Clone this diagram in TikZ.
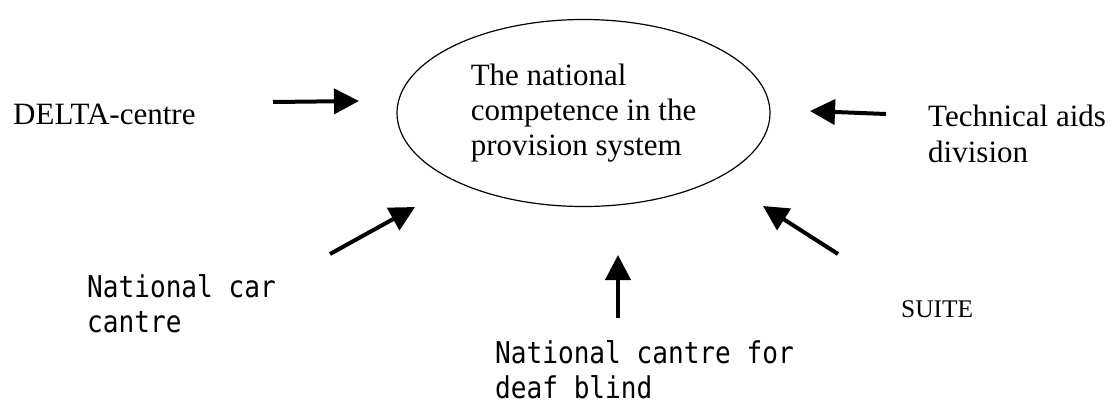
\documentclass[tikz,border=0pt]{standalone}
\usepackage{fontspec}
\setmainfont{Liberation Serif}
\newfontfamily\gothicfont[FakeStretch=0.87]{DejaVu Sans Mono}
\usetikzlibrary{shapes.geometric,arrows.meta}
\begin{document}
\begin{tikzpicture}
[x=1pt,y=-1pt,
  ellipsedecorate/.style={shape=ellipse,draw,line width=1.2pt,
    minimum width=373pt,minimum height=187pt,inner sep=0pt,
    align=left,font=\fontsize{31}{35}\selectfont},%
  serifdecorate/.style={inner sep=0pt,anchor=base west,align=left,
    font=\fontsize{31}{36}\selectfont},%
  gothicdecorate/.style={inner sep=0pt,anchor=base west,align=left,
    font=\gothicfont\fontsize{30}{35}\selectfont},%
  arrowdecorate/.style={line width=4pt,
    -{Triangle[length=25pt,width=25pt]}}]
\useasboundingbox (0,0) rectangle (1113,405);
%%
%% the centre
\node (competence) at (583.5,113) [ellipsedecorate]
  {The national\\competence in the\\provision system};
%%
%% the contributors (base = last line)
\node (delta) at (13,124) [serifdecorate] {DELTA-centre};
\node (techaids) at (928,162) [serifdecorate] {Technical aids\\division};
\node (suite) at (901,317) [serifdecorate,
  font=\fontsize{25.4}{30}\selectfont] {SUITE};
\node (carcentre) at (87,332) [gothicdecorate] {National car\\cantre};
\node (deafblind) at (495,398) [gothicdecorate]
  {National cantre for\\deaf blind};
%%
%% arrow ends
\foreach \cname/\x/\y in {deltatail/273/102, deltatip/359/101,
  techtail/886/114, techtip/810/111, suitetail/838/254, suitetip/763/206,
  cartail/330/254, cartip/415/207, deaftail/618/318, deaftip/618/255} {
  \coordinate (\cname) at (\x,\y);
}
%% arrows
\foreach \startnode/\endnode in {deltatail/deltatip, techtail/techtip,
  suitetail/suitetip, cartail/cartip, deaftail/deaftip} {
  \draw[arrowdecorate] (\startnode) -- (\endnode);
}
\end{tikzpicture}
\end{document}
